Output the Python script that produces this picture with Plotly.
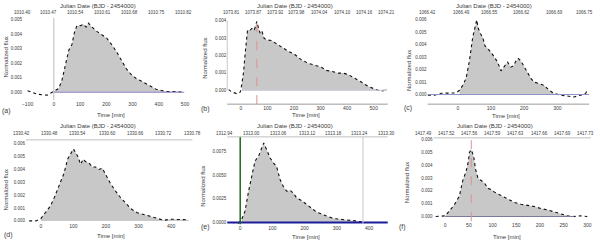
import plotly.graph_objects as go

# ---------------- data ----------------
t_a = [-100, -63, -25, 0, 19, 31, 44, 57, 69, 78, 88, 101, 113, 123, 132, 145, 164, 182, 201, 220, 239, 258, 277, 296, 314, 333, 352, 371, 390, 409, 428, 465, 497]
f_a = [0.00010, -0.00014, -0.00020, 0.00005, 0.00027, 0.00084, 0.00190, 0.00290, 0.00330, 0.00410, 0.00460, 0.00460, 0.00470, 0.00450, 0.00477, 0.00450, 0.00420, 0.00400, 0.00375, 0.00330, 0.00280, 0.00220, 0.00160, 0.00120, 0.00095, 0.00077, 0.00060, 0.00040, 0.00020, 0.00010, 0.00005, 0.00005, 0.00000]

t_b = [-46, -34, -15, -2, 4, 10, 16, 25, 35, 44, 51, 60, 66, 72, 79, 87, 97, 116, 135, 153, 178, 203, 228, 253, 278, 303, 322, 340, 365, 384, 403, 421, 440, 459, 478, 496, 515, 534, 550]
f_b = [0.00004, -0.0001, -0.0002, -0.0001, 0.0004, 0.00105, 0.0021, 0.00347, 0.00347, 0.0036, 0.0035, 0.00396, 0.0036, 0.0033, 0.00343, 0.0030, 0.0029, 0.00286, 0.00267, 0.00248, 0.00225, 0.00206, 0.00175, 0.00156, 0.00143, 0.00133, 0.00114, 0.0011, 0.00099, 0.00099, 0.00091, 0.00076, 0.0006, 0.00042, 0.00023, 0.0001, 0.0, -0.00004, 0.0001]

t_c = [-90, -70, -50, -30, -5, 5, 15, 25, 35, 45, 52, 57, 62, 68, 75, 82, 90, 100, 110, 120, 130, 140, 150, 160, 168, 175, 182, 190, 200, 210, 220, 230, 245, 260, 275, 290, 310, 330, 350, 370, 385, 390]
f_c = [-0.00005, -0.00005, 0.0001, 0.00013, 0.00013, 0.00034, 0.00074, 0.0013, 0.0027, 0.0046, 0.0056, 0.0060, 0.0053, 0.0049, 0.0046, 0.0039, 0.0037, 0.0034, 0.0030, 0.0026, 0.0019, 0.0023, 0.0026, 0.0022, 0.0023, 0.0027, 0.0029, 0.0027, 0.0022, 0.0018, 0.0013, 0.0010, 0.00088, 0.00074, 0.00034, 0.00008, -0.00005, -0.00013, -0.0002, -0.00005, 0.0001, 0.00034]

t_d = [-36, -15, 0, 15, 29, 41, 56, 71, 82, 92, 100, 107, 114, 122, 130, 138, 148, 158, 168, 179, 189, 199, 214, 230, 245, 260, 276, 296, 316, 337, 357, 378, 398, 418, 439, 454]
f_d = [0, 0, 0.00018, 0.00064, 0.00115, 0.0018, 0.0027, 0.0037, 0.0048, 0.0053, 0.0056, 0.0053, 0.0050, 0.0044, 0.0048, 0.0046, 0.0045, 0.0042, 0.0042, 0.0040, 0.0041, 0.0036, 0.0029, 0.0023, 0.0018, 0.0014, 0.00095, 0.00064, 0.0005, 0.00038, 0.00018, 0.00005, 0.00013, 0.00013, 0.00008, 0.00008]

t_e = [-26, -5, 5, 15, 26, 36, 46, 57, 65, 73, 82, 93, 103, 113, 124, 134, 144, 155, 165, 175, 191, 206, 222, 237, 253, 273, 294, 314, 335, 356, 376, 381]
f_e = [0, -0.00007, 0.00035, 0.0012, 0.0033, 0.0051, 0.0065, 0.0070, 0.0077, 0.0084, 0.0077, 0.0068, 0.0063, 0.0059, 0.0045, 0.0038, 0.0033, 0.0034, 0.0031, 0.0026, 0.0023, 0.0019, 0.0015, 0.0011, 0.0009, 0.0006, 0.0004, 0.00035, 0.0003, 0.00017, 0.00007, 0]

t_f = [-20, -8, 0, 9, 20, 30, 37, 44, 49, 51, 55, 60, 64, 69, 76, 83, 90, 97, 104, 114, 125, 135, 146, 160, 174, 188, 202, 216, 230, 244, 258, 272, 286, 300]
f_f = [0, 0, 0.00005, 0.00044, 0.00096, 0.0016, 0.0028, 0.0035, 0.0043, 0.0050, 0.0052, 0.0047, 0.0037, 0.0030, 0.0028, 0.0026, 0.0022, 0.0021, 0.0019, 0.0017, 0.0015, 0.0013, 0.0011, 0.00096, 0.00088, 0.00078, 0.00062, 0.00052, 0.00036, 0.00018, 0.00005, 0, 0.00005, 0]

# flare windows (start, end) in minutes
flare_a = (0, 497)
flare_b = (0, 550)
flare_c = (0, 290)
flare_d = (0, 454)
flare_e = (0, 381)
flare_f = (0, 272)

# marked times
peak_b = 60
peak_f = 55
end_e = 381

# bottom tick values
xticks_a = [-100, 0, 100, 200, 300, 400, 500]
xticks_b = [0, 100, 200, 300, 400, 500]
xticks_c = [0, 100, 200, 300]
xticks_d = [0, 100, 200, 300, 400]
xticks_e = [0, 100, 200, 300, 400]
xticks_f = [0, 50, 100, 150, 200, 250, 300]

yticks_a = [0, 0.001, 0.002, 0.003, 0.004, 0.005]
yticks_b = [0, 0.001, 0.002, 0.003, 0.004]
yticks_c = [0, 0.001, 0.002, 0.003, 0.004, 0.005, 0.006]
yticks_d = [0, 0.001, 0.002, 0.003, 0.004, 0.005, 0.006]
yticks_e = [0, 0.0025, 0.005, 0.0075]
yticks_f = [0, 0.001, 0.002, 0.003, 0.004, 0.005, 0.006]

# top (Julian date) tick positions in minutes and their labels
jd_t_a = [-121, -19, 84, 187, 290, 393, 496]
jd_l_a = ["1010.40", "1010.47", "1010.54", "1010.61", "1010.68", "1010.75", "1010.82"]
jd_t_b = [-34, 46, 129, 211, 297, 384, 466, 549]
jd_l_b = ["1073.81", "1073.87", "1073.92", "1073.98", "1074.04", "1074.10", "1074.16", "1074.21"]
jd_t_c = [-91, 11, 95, 191, 290, 380]
jd_l_c = ["1066.42", "1066.49", "1066.55", "1066.62", "1066.69", "1066.75"]
jd_t_d = [-61, 25, 114, 204, 291, 378, 465]
jd_l_d = ["1330.42", "1330.48", "1330.54", "1330.60", "1330.66", "1330.72", "1330.78"]
jd_t_e = [-49, 36, 118, 208, 291, 371, 454]
jd_l_e = ["1312.94", "1313.00", "1313.06", "1313.12", "1313.18", "1313.24", "1313.30"]
jd_t_f = [-46, 2, 51, 100, 149, 198, 247, 297]
jd_l_f = ["1417.49", "1417.52", "1417.56", "1417.59", "1417.63", "1417.66", "1417.69", "1417.73"]

panel_labels = ["(a)", "(b)", "(c)", "(d)", "(e)", "(f)"]
top_title = "Julian Date (BJD - 2454000)"
x_title = "Time [min]"
y_title = "Normalized flux"

# ---------------- layout geometry (pixels) ----------------
W, H = 600, 243
FONT = "Liberation Sans, Arial, sans-serif"
TXT = "#3a3a3a"
FILL = "#c8c8c8"

panels = [
    dict(t=t_a, f=f_a, win=flare_a, xt=xticks_a, yt=yticks_a, jt=jd_t_a, jl=jd_l_a, yfmt=".3f",
         L=22, R=190, T=17, B=100, x0=53, kx=0.2633, y0=92, ky=14600,
         lab=(6, 111), ttl=(97, 5), xtl=(110, 115), ytl=(5, 56), jdy=12),
    dict(t=t_b, f=f_b, win=flare_b, xt=xticks_b, yt=yticks_b, jt=jd_t_b, jl=jd_l_b, yfmt=".3f",
         L=227, R=388, T=15, B=104, x0=240.7, kx=0.2666, y0=90, ky=17500,
         lab=(205, 109), ttl=(295, 5), xtl=(306, 115), ytl=(204, 58), jdy=12),
    dict(t=t_c, f=f_c, win=flare_c, xt=xticks_c, yt=yticks_c, jt=jd_t_c, jl=jd_l_c, yfmt=".3f",
         L=428, R=590, T=17, B=104, x0=458.3, kx=0.3333, y0=94.3, ky=12550,
         lab=(408, 108), ttl=(495, 5), xtl=(507, 116), ytl=(410, 70), jdy=12),
    dict(t=t_d, f=f_d, win=flare_d, xt=xticks_d, yt=yticks_d, jt=jd_t_d, jl=jd_l_d, yfmt=".3f",
         L=25, R=192, T=140, B=223, x0=40, kx=0.3267, y0=221.7, ky=12950,
         lab=(8, 236), ttl=(97, 126), xtl=(110, 237), ytl=(5, 190), jdy=134),
    dict(t=t_e, f=f_e, win=flare_e, xt=xticks_e, yt=yticks_e, jt=jd_t_e, jl=jd_l_e, yfmt=".4f",
         L=227, R=388, T=137, B=225, x0=240, kx=0.3233, y0=223.3, ky=9547,
         lab=(205, 228), ttl=(295, 126), xtl=(306, 238), ytl=(203, 187), jdy=134),
    dict(t=t_f, f=f_f, win=flare_f, xt=xticks_f, yt=yticks_f, jt=jd_t_f, jl=jd_l_f, yfmt=".3f",
         L=434, R=592, T=138, B=222, x0=445.7, kx=0.4753, y0=217.3, ky=12940,
         lab=(403, 228), ttl=(496, 126), xtl=(508, 238), ytl=(408, 183), jdy=134),
]

def px(x):
    return x / W

def py(y):
    return 1 - y / H

fig = go.Figure()
layout = dict(width=W, height=H, margin=dict(l=0, r=0, t=0, b=0),
              paper_bgcolor="white", plot_bgcolor="white", showlegend=False,
              font=dict(family=FONT, color=TXT, size=5))
shapes = []
annotations = []

for i, p in enumerate(panels):
    n = i + 1
    xa = "x" if n == 1 else f"x{n}"
    ya = "y" if n == 1 else f"y{n}"
    xkey = "xaxis" if n == 1 else f"xaxis{n}"
    ykey = "yaxis" if n == 1 else f"yaxis{n}"
    xr = [(p["L"] - p["x0"]) / p["kx"], (p["R"] - p["x0"]) / p["kx"]]
    yr = [(p["y0"] - p["B"]) / p["ky"], (p["y0"] - p["T"]) / p["ky"]]
    layout[xkey] = dict(domain=[px(p["L"]), px(p["R"])], range=xr, anchor=ya,
                        showgrid=False, zeroline=False, showline=False, ticks="",
                        tickvals=p["xt"], tickfont=dict(size=5, color=TXT))
    layout[ykey] = dict(domain=[py(p["B"]), py(p["T"])], range=yr, anchor=xa,
                        showgrid=False, zeroline=False, showline=False, ticks="",
                        tickvals=p["yt"], tickformat=p["yfmt"],
                        tickfont=dict(size=4.5, color=TXT))

    lo, hi = p["win"]
    ft = [t for t in p["t"] if lo <= t <= hi]
    ff = [v for t, v in zip(p["t"], p["f"]) if lo <= t <= hi]
    fig.add_trace(go.Scatter(x=ft, y=ff, mode="lines", fill="tozeroy",
                             fillcolor=FILL, line=dict(width=0, color=FILL),
                             xaxis=xa, yaxis=ya, hoverinfo="skip"))
    fig.add_trace(go.Scatter(x=p["t"], y=p["f"], mode="lines",
                             line=dict(color="#111111", width=1.1, dash="dot"),
                             xaxis=xa, yaxis=ya))

    # top Julian-date labels, placed along the x axis (fraction of its range)
    span = xr[1] - xr[0]
    for tv, tl in zip(p["jt"], p["jl"]):
        annotations.append(dict(x=(tv - xr[0]) / span, y=py(p["jdy"]),
                                xref=f"{xa} domain", yref="paper",
                                text=tl, showarrow=False, xanchor="center",
                                yanchor="middle", font=dict(size=4.5, color=TXT)))
    annotations.append(dict(x=px(p["ttl"][0]), y=py(p["ttl"][1]), xref="paper", yref="paper",
                            text=top_title, showarrow=False, xanchor="center", yanchor="middle",
                            font=dict(size=6, color=TXT)))
    annotations.append(dict(x=px(p["xtl"][0]), y=py(p["xtl"][1]), xref="paper", yref="paper",
                            text=x_title, showarrow=False, xanchor="center", yanchor="middle",
                            font=dict(size=6, color=TXT)))
    annotations.append(dict(x=px(p["ytl"][0]), y=py(p["ytl"][1]), xref="paper", yref="paper",
                            text=y_title, showarrow=False, xanchor="center", yanchor="middle",
                            textangle=-90, font=dict(size=6, color=TXT)))
    annotations.append(dict(x=px(p["lab"][0]), y=py(p["lab"][1]), xref="paper", yref="paper",
                            text=panel_labels[i], showarrow=False, xanchor="center", yanchor="middle",
                            font=dict(size=7, color=TXT)))

# (a) start line and baseline
shapes.append(dict(type="line", xref="x", yref="y domain", x0=0, x1=0, y0=0, y1=1,
                   line=dict(color="#bdbdbd", width=1)))
shapes.append(dict(type="line", xref="x", yref="y", x0=flare_a[0], x1=flare_a[1], y0=0, y1=0,
                   line=dict(color="#8a86c8", width=1)))
# (b)
shapes.append(dict(type="line", xref="x2", yref="y2", x0=flare_b[0], x1=flare_b[1], y0=0, y1=0,
                   line=dict(color="#c8c8d8", width=1)))
shapes.append(dict(type="line", xref="x2", yref="y2 domain", x0=peak_b, x1=peak_b, y0=0, y1=1,
                   line=dict(color="#e09090", width=1, dash="dash")))
shapes.append(dict(type="line", xref="x2 domain", yref="y2 domain", x0=0, x1=1, y0=0, y1=0,
                   line=dict(color="#9a9a9a", width=1)))
shapes.append(dict(type="line", xref="x2 domain", yref="y2", x0=0, x1=0, y0=0, y1=yticks_b[-1],
                   line=dict(color="#c8c8c8", width=1)))
# (c)
shapes.append(dict(type="line", xref="x3 domain", yref="y3", x0=0, x1=1, y0=0, y1=0,
                   line=dict(color="#9090c8", width=1)))
shapes.append(dict(type="line", xref="x3 domain", yref="y3 domain", x0=0, x1=1, y0=0, y1=0,
                   line=dict(color="#9a9a9a", width=1)))
# (d) top border
shapes.append(dict(type="line", xref="x4 domain", yref="y4 domain", x0=0, x1=1, y0=1, y1=1,
                   line=dict(color="#c0c0c0", width=1)))
# (e)
shapes.append(dict(type="line", xref="x5 domain", yref="y5", x0=0, x1=1, y0=0, y1=0,
                   line=dict(color="#1c1c9a", width=2)))
shapes.append(dict(type="line", xref="x5", yref="y5 domain", x0=0, x1=0, y0=0, y1=1,
                   line=dict(color="#1a6a1a", width=1.5)))
shapes.append(dict(type="line", xref="x5", yref="y5 domain", x0=end_e, x1=end_e, y0=0, y1=1,
                   line=dict(color="#c8c8c8", width=1)))
shapes.append(dict(type="line", xref="x5 domain", yref="y5 domain", x0=0, x1=1, y0=1, y1=1,
                   line=dict(color="#c0c0c0", width=1)))
# (f)
shapes.append(dict(type="line", xref="x6", yref="y6", x0=flare_f[0], x1=flare_f[1], y0=0, y1=0,
                   line=dict(color="#7a7a9a", width=1)))
shapes.append(dict(type="line", xref="x6", yref="y6 domain", x0=peak_f, x1=peak_f, y0=0, y1=1,
                   line=dict(color="#e09090", width=1, dash="dash")))
shapes.append(dict(type="line", xref="x6 domain", yref="y6 domain", x0=0, x1=1, y0=1, y1=1,
                   line=dict(color="#c0c0c0", width=1)))

layout["shapes"] = shapes
layout["annotations"] = annotations
fig.update_layout(**layout)

fig.write_html("out.html", config={"displayModeBar": False},
               post_script="document.body.style.margin='0';document.body.style.overflow='hidden';")
